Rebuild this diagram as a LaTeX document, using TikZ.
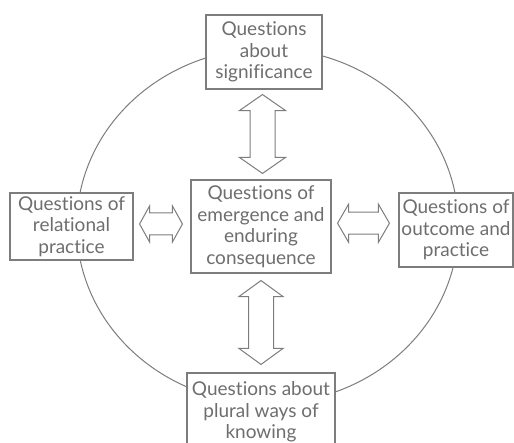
\documentclass[tikz,border=0pt]{standalone}
\usepackage{fontspec}
\setmainfont{Lato}[Ligatures=NoCommon]
\usetikzlibrary{calc}
\definecolor{txtgray}{RGB}{110,110,110}
\definecolor{linegray}{RGB}{125,125,125}
\tikzset{
  qbox/.style={draw=linegray, line width=1.1pt, fill=white, rectangle, inner sep=0pt,
    align=center, text=txtgray, font=\fontsize{19}{21.5}\selectfont},
  conn/.style={draw=linegray, line width=1pt, line join=miter, fill=white},
  ring/.style={draw=linegray, line width=1pt}
}
% vertical hollow double arrow: #1 upper anchor, #2 lower anchor, #3 gap top, #4 gap bottom,
% #5 shaft half width, #6 head half width, #7 head length
\newcommand\vdarrow[7]{%
  \draw[conn] let \p1=($(#1)+(0,-#3)$), \p2=($(#2)+(0,#4)$), \p3=($(#1)!0.5!(#2)$) in
    (\x3,\y1) -- (\x3+#6pt,\y1-#7pt) -- (\x3+#5pt,\y1-#7pt) -- (\x3+#5pt,\y2+#7pt)
    -- (\x3+#6pt,\y2+#7pt) -- (\x3,\y2) -- (\x3-#6pt,\y2+#7pt) -- (\x3-#5pt,\y2+#7pt)
    -- (\x3-#5pt,\y1-#7pt) -- (\x3-#6pt,\y1-#7pt) -- cycle;}
% horizontal hollow double arrow: #1 left anchor, #2 right anchor, #3 gap left, #4 gap right,
% #5 shaft half, #6 head half, #7 head length, #8 vertical offset
\newcommand\hdarrow[8]{%
  \draw[conn] let \p1=($(#1)+(#3,0)$), \p2=($(#2)+(-#4,0)$), \p3=($(#1)!0.5!(#2)+(0,#8)$) in
    (\x1,\y3) -- (\x1+#7pt,\y3+#6pt) -- (\x1+#7pt,\y3+#5pt) -- (\x2-#7pt,\y3+#5pt)
    -- (\x2-#7pt,\y3+#6pt) -- (\x2,\y3) -- (\x2-#7pt,\y3-#6pt) -- (\x2-#7pt,\y3-#5pt)
    -- (\x1+#7pt,\y3-#5pt) -- (\x1+#7pt,\y3-#6pt) -- cycle;}
\begin{document}
\begin{tikzpicture}[x=1pt,y=1pt]
\useasboundingbox (0,0) rectangle (514,443);
\fill[white] (0,0) rectangle (514,443);
\draw[ring] (267.5,217) ellipse [x radius=190.8, y radius=177.5];
\node[qbox, minimum width=116pt, minimum height=74pt] (top) at (264,391) {Questions\\about\\significance};
\node[qbox, minimum width=140pt, minimum height=93pt] (ctr) at (261,216.5) {Questions of\\emergence and\\enduring\\consequence};
\node[qbox, minimum width=123pt, minimum height=67pt] (lft) at (71.5,216.5) {Questions of\\relational\\practice};
\node[qbox, minimum width=114pt, minimum height=74pt] (rgt) at (456,213) {Questions of\\outcome and\\practice};
\node[qbox, minimum width=148pt, minimum height=78pt] (bot) at (261,31) {Questions about\\plural ways of\\knowing};
\vdarrow{top.south}{ctr.north}{5}{6}{12.5}{23}{16}
\vdarrow{ctr.south}{bot.north}{7}{8}{12.5}{22}{16}
\hdarrow{lft.east}{ctr.west}{6}{8}{11}{18}{10}{2.5}
\hdarrow{ctr.east}{rgt.west}{6}{9}{11}{19}{11}{5}
\end{tikzpicture}
\end{document}
